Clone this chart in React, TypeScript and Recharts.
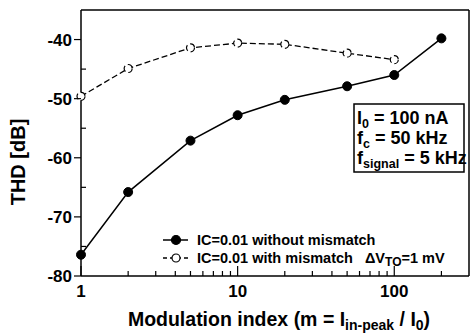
import React from 'react';
import { LineChart, Line, XAxis, YAxis, ReferenceLine, Legend, Customized } from 'recharts';

const modIndex = [1, 2, 5, 10, 20, 50, 100, 200];
const thdNoMismatch = [-76.4, -65.8, -57.1, -52.8, -50.2, -47.9, -46.0, -39.8];
const thdMismatch: (number | null)[] = [-49.6, -44.9, -41.4, -40.6, -40.8, -42.3, -43.4, null];

const xTicks = [1, 2, 3, 4, 5, 6, 7, 8, 9, 10, 20, 30, 40, 50, 60, 70, 80, 90, 100, 200];
const xLabels = [1, 10, 100];
const yTicks = [-80, -75, -70, -65, -60, -55, -50, -45, -40];
const yLabels = [-80, -70, -60, -50, -40];

const legendItems = [
  { key: 'noMis', label: 'IC=0.01 without mismatch', filled: true, dashed: false },
  { key: 'mis', label: 'IC=0.01 with mismatch', filled: false, dashed: true },
];

const data = modIndex.map((m, i) => ({ m, noMis: thdNoMismatch[i], mis: thdMismatch[i] }));

const FONT = '"Liberation Sans", Arial, sans-serif';

const XTick = (props: any) => {
  const { x, y, payload } = props;
  const v = payload.value;
  const major = xLabels.includes(v);
  return (
    <g>
      <line x1={x} x2={x} y1={y} y2={y - (major ? 10 : 5)} stroke="#000" strokeWidth={1.2} />
      {major && (
        <text x={x} y={y + 21} textAnchor="middle" fontFamily={FONT} fontWeight="bold" fontSize={17} fill="#000">
          {v}
        </text>
      )}
    </g>
  );
};

const YTick = (props: any) => {
  const { x, y, payload } = props;
  const v = payload.value;
  const major = yLabels.includes(v);
  return (
    <g>
      {major ? (
        <line x1={x - 7} x2={x} y1={y} y2={y} stroke="#000" strokeWidth={1.2} />
      ) : (
        <line x1={x} x2={x + 5} y1={y} y2={y} stroke="#000" strokeWidth={1.2} />
      )}
      {major && (
        <text x={x - 9} y={y + 6} textAnchor="end" fontFamily={FONT} fontWeight="bold" fontSize={17} fill="#000">
          {v}
        </text>
      )}
    </g>
  );
};

const Annotations = () => (
  <g fontFamily={FONT} fill="#000">
    <text
      transform="translate(25,162) rotate(-90)"
      textAnchor="middle"
      fontWeight="bold"
      fontSize={20}
    >
      THD [dB]
    </text>
    <text x={279} y={326} textAnchor="middle" fontWeight="bold" fontSize={19.5}>
      Modulation index (m = I
      <tspan dy={4} fontSize={14}>in-peak</tspan>
      <tspan dy={-4} fontSize={19.5}> / I</tspan>
      <tspan dy={4} fontSize={14}>0</tspan>
      <tspan dy={-4} fontSize={19.5}>)</tspan>
    </text>
    <rect x={354} y={104} width={110} height={68} fill="#fff" stroke="#000" strokeWidth={1.5} />
    <text x={357} y={124} fontWeight="bold" fontSize={18}>
      I<tspan dy={4} fontSize={12.5}>0</tspan>
      <tspan dy={-4}> = 100 nA</tspan>
    </text>
    <text x={357} y={144} fontWeight="bold" fontSize={18}>
      f<tspan dy={4} fontSize={12.5}>c</tspan>
      <tspan dy={-4}> = 50 kHz</tspan>
    </text>
    <text x={357} y={164} fontWeight="bold" fontSize={18}>
      f<tspan dy={4} fontSize={12.5}>signal</tspan>
      <tspan dy={-4}> = 5 kHz</tspan>
    </text>
  </g>
);

const LegendContent = () => (
  <div style={{ fontFamily: FONT, fontSize: 14.5, fontWeight: 'bold', color: '#000', lineHeight: '18px' }}>
    {legendItems.map((it) => (
      <div key={it.key} style={{ display: 'flex', alignItems: 'center', height: 18, whiteSpace: 'nowrap' }}>
        <svg width={35} height={18} style={{ display: 'block' }}>
          <line x1={1} x2={26} y1={9} y2={9} stroke="#000" strokeWidth={1.5} strokeDasharray={it.dashed ? '4 3' : undefined} />
          <circle cx={14} cy={9} r={it.filled ? 4.5 : 4} fill={it.filled ? '#000' : '#fff'} stroke="#000" strokeWidth={1.2} />
        </svg>
        <span>{it.label}</span>
        {it.dashed && (
          <span style={{ marginLeft: 12 }}>
            ΔV<span style={{ fontSize: 12, position: 'relative', top: 3 }}>TO</span>=1 mV
          </span>
        )}
      </div>
    ))}
  </div>
);

export default function App() {
  return (
    <div style={{ position: 'absolute', left: 0, top: 0, width: 471, height: 333, background: '#fff' }}>
      <LineChart width={471} height={333} data={data} margin={{ top: 10, right: 2, bottom: 0, left: 0 }}>
        <XAxis
          dataKey="m"
          type="number"
          scale="log"
          domain={[1, 300]}
          ticks={xTicks}
          interval={0}
          tick={<XTick />}
          tickLine={false}
          tickSize={0}
          tickMargin={0}
          height={57}
          axisLine={{ stroke: '#000', strokeWidth: 1.5 }}
        />
        <YAxis
          type="number"
          domain={[-80, -35]}
          ticks={yTicks}
          interval={0}
          tick={<YTick />}
          tickLine={false}
          tickSize={0}
          tickMargin={0}
          width={81}
          axisLine={{ stroke: '#000', strokeWidth: 1.5 }}
        />
        <ReferenceLine y={-35} stroke="#000" strokeWidth={1.5} />
        <ReferenceLine x={300} stroke="#000" strokeWidth={1.5} />
        <Line
          dataKey="mis"
          stroke="#000"
          strokeWidth={1.3}
          strokeDasharray="6 3"
          dot={{ r: 4, fill: '#fff', stroke: '#000', strokeWidth: 1.2 }}
          isAnimationActive={false}
        />
        <Line
          dataKey="noMis"
          stroke="#000"
          strokeWidth={1.5}
          dot={{ r: 4.5, fill: '#000', stroke: '#000', strokeWidth: 1 }}
          isAnimationActive={false}
        />
        <Legend
          layout="horizontal"
          verticalAlign="middle"
          content={<LegendContent />}
          wrapperStyle={{ left: 162, top: 231, width: 305 }}
        />
        <Customized component={Annotations} />
      </LineChart>
    </div>
  );
}
